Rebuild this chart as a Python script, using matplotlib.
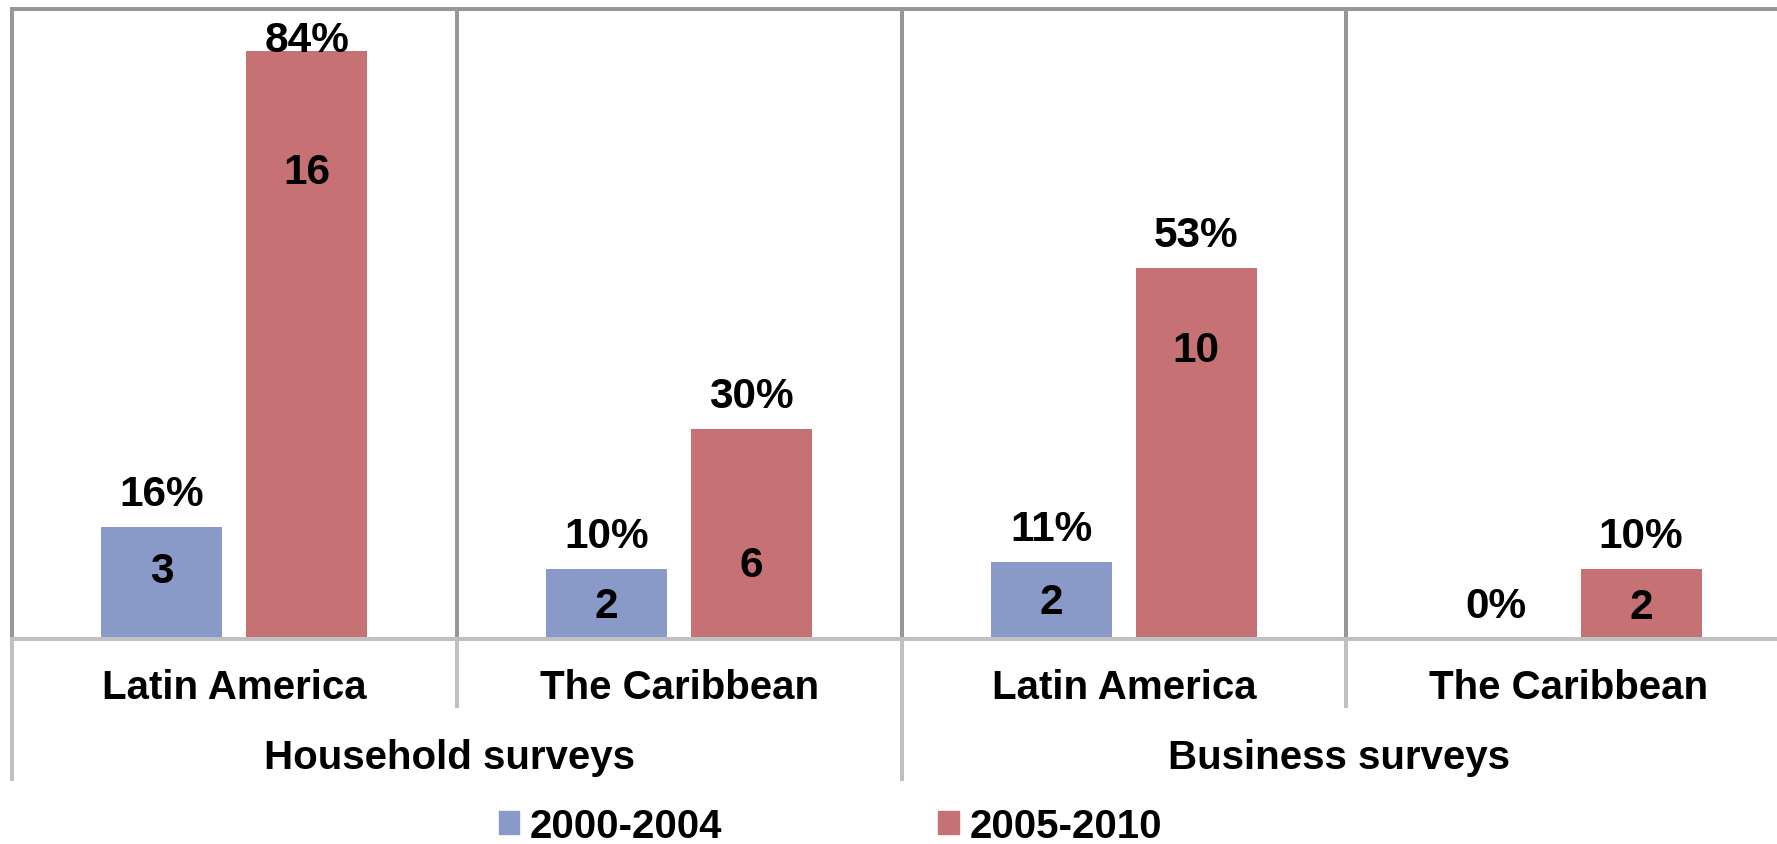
import matplotlib
matplotlib.use("Agg")
import matplotlib.pyplot as plt
from matplotlib.patches import Patch
from matplotlib.transforms import blended_transform_factory

# ---- data -------------------------------------------------------------
groups = ["Household surveys", "Business surveys"]
regions = ["Latin America", "The Caribbean", "Latin America", "The Caribbean"]
series = ["2000-2004", "2005-2010"]
share_2000_2004 = [0.16, 0.10, 0.11, 0.00]
share_2005_2010 = [0.84, 0.30, 0.53, 0.10]
count_2000_2004 = [3, 2, 2, 0]
count_2005_2010 = [16, 6, 10, 2]

# ---- style ------------------------------------------------------------
plt.rcParams["font.family"] = ["Liberation Sans", "DejaVu Sans"]
plt.rcParams["font.weight"] = "bold"
FS = 29          # axis and legend text
FS_LAB = 30.5    # data labels
BLUE = "#8999C8"
RED = "#C67174"
DARK = "#979797"
LIGHT = "#C0C0C0"
LW = 2.9

W, H = 1777, 845
fig = plt.figure(figsize=(W / 100, H / 100), dpi=100)
# plot area: left edge at 12px, baseline at 640px, top at 10px; 4 slots of ~445px
ax = fig.add_axes([12 / W, (H - 640) / H, (1791 - 12) / W, 630 / H])
ax.set_xlim(-0.5, 3.5)
ax.set_ylim(0, 0.9)
ax.set_xticks([])
ax.set_yticks([])

for side in ("top", "left"):
    ax.spines[side].set_color(DARK)
    ax.spines[side].set_linewidth(LW)
ax.spines["bottom"].set_color(LIGHT)
ax.spines["bottom"].set_linewidth(LW)
ax.spines["right"].set_visible(False)

x = list(range(len(regions)))
bw = 0.272
off = 0.163
xb = [i - off for i in x]
xr = [i + off for i in x]
ax.bar(xb, share_2000_2004, width=bw, color=BLUE, label=series[0], zorder=2)
ax.bar(xr, share_2005_2010, width=bw, color=RED, label=series[1], zorder=2)

# slot separators inside the plot
for b in (0.5, 1.5, 2.5):
    ax.axvline(b, color=DARK, lw=LW, zorder=1)

# category-axis frame below the baseline
tr = blended_transform_factory(ax.transData, ax.transAxes)
short_drop = -(709 - 640) / 630
long_drop = -(782 - 640) / 630
for b, d in [(-0.5, long_drop), (0.5, short_drop), (1.5, long_drop),
             (2.5, short_drop), (3.5, long_drop)]:
    ax.plot([b, b], [0, d], transform=tr, color=LIGHT, lw=LW,
            clip_on=False, solid_capstyle="butt")

# category and group labels
lab_y = -(699 - 640) / 630
grp_y = -(769 - 640) / 630
for i, r in zip(x, regions):
    ax.text(i, lab_y, r, transform=tr, ha="center", va="baseline",
            fontsize=FS, fontweight="bold")
for g, c in zip(groups, [0.5, 2.5]):
    ax.annotate(g, xy=(c, grp_y), xycoords=tr, xytext=(-7, 0),
                textcoords="offset pixels", ha="center", va="baseline",
                fontsize=FS, fontweight="bold", annotation_clip=False)

# percentage labels above bars (kept inside the plot area)
gap = 22 / 700
cap = 29.5 / 700
top_limit = 0.9 - (cap + 12 / 700)
for xs, vals in [(xb, share_2000_2004), (xr, share_2005_2010)]:
    for xi, v in zip(xs, vals):
        y = min(v + gap, top_limit)
        ax.text(xi, y, f"{round(v * 100):d}%", ha="center", va="baseline",
                fontsize=FS_LAB, fontweight="bold", zorder=3)

# survey counts inside bars
frac_b = [0.64, 0.53, 0.53, 0.5]
frac_r = [0.80, 0.37, 0.79, 0.51]
for xs, vals, cnts, fr in [(xb, share_2000_2004, count_2000_2004, frac_b),
                            (xr, share_2005_2010, count_2005_2010, frac_r)]:
    for xi, v, n, f in zip(xs, vals, cnts, fr):
        if n == 0:
            continue
        ax.annotate(f"{n}", xy=(xi, v * f), xytext=(0, -14.8),
                    textcoords="offset pixels", ha="center", va="baseline",
                    fontsize=FS_LAB, fontweight="bold", zorder=3)

handles = [Patch(color=BLUE), Patch(color=RED)]
fig.legend(handles, series, ncol=2, frameon=False,
           prop={"size": FS, "weight": "bold"},
           handlelength=0.5, handleheight=0.5, handletextpad=0.27,
           columnspacing=5.36, borderpad=0, borderaxespad=0,
           loc="center left", bbox_to_anchor=(499 / W, 1 - 827 / H))

fig.savefig("out.png", dpi=100, facecolor="white")
